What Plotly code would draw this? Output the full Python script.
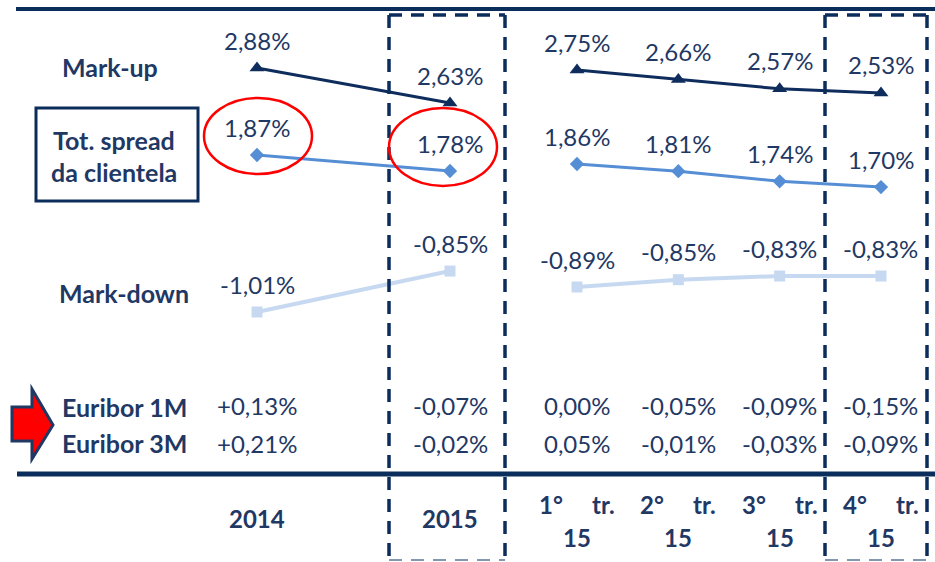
import plotly.graph_objects as go

# ---------------- data ----------------
years = ["2014", "2015"]
quarters = ["1° tr. 15", "2° tr. 15", "3° tr. 15", "4° tr. 15"]

markup_y = [2.88, 2.63]
spread_y = [1.87, 1.78]
markdown_y = [-1.01, -0.85]

markup_q = [2.75, 2.66, 2.57, 2.53]
spread_q = [1.86, 1.81, 1.74, 1.70]
markdown_q = [-0.89, -0.85, -0.83, -0.83]

euribor1m_y = [0.13, -0.07]
euribor3m_y = [0.21, -0.02]
euribor1m_q = [0.00, -0.05, -0.09, -0.15]
euribor3m_q = [0.05, -0.01, -0.03, -0.09]

# ---------------- styles ----------------
W, H = 935, 562
NAVY = "#0B2D5B"
TXT = "#1F3864"
C_UP = "#0E2C5C"
C_SPREAD = "#558ED5"
C_DOWN = "#C6D9F1"
FONT = "Lato"


def X(p):
    return p / W


def Y(p):
    return 1 - p / H


def fmt(v, plus=False):
    s = f"{v:.2f}".replace(".", ",") + "%"
    if plus and v > 0:
        s = "+" + s
    return s


fig = go.Figure()

series = [
    (years, markup_y, "x", "y", C_UP, "triangle-up", 13, 3),
    (years, spread_y, "x", "y2", C_SPREAD, "diamond", 11, 3),
    (years, markdown_y, "x", "y3", C_DOWN, "square", 11, 4),
    (quarters, markup_q, "x2", "y4", C_UP, "triangle-up", 13, 3),
    (quarters, spread_q, "x2", "y5", C_SPREAD, "diamond", 11, 3),
    (quarters, markdown_q, "x2", "y6", C_DOWN, "square", 11, 4),
]

annotations = []
for xs, ys, xa, ya, col, sym, ms, lw in series:
    fig.add_trace(go.Scatter(
        x=xs, y=ys, xaxis=xa, yaxis=ya, mode="lines+markers",
        line=dict(color=col, width=lw),
        marker=dict(symbol=sym, size=ms, color=col),
        hoverinfo="skip", showlegend=False,
    ))
    for i, yv in enumerate(ys):
        annotations.append(dict(
            x=i, y=yv, xref=xa, yref=ya, text=fmt(yv), showarrow=False,
            yshift=28, yanchor="middle", xanchor="center",
            font=dict(family=FONT, size=24, color=TXT),
        ))

# Euribor rows
for vals, xa, ypix, plus in [
    (euribor1m_y, "x", 405, True),
    (euribor3m_y, "x", 443, True),
    (euribor1m_q, "x2", 405, False),
    (euribor3m_q, "x2", 443, False),
]:
    for i, v in enumerate(vals):
        annotations.append(dict(
            x=i, y=Y(ypix), xref=xa, yref="paper", text=fmt(v, plus and i == 0),
            showarrow=False, yanchor="middle", xanchor="center",
            font=dict(family=FONT, size=24, color=TXT),
        ))

# category labels
for i, c in enumerate(years):
    annotations.append(dict(
        x=i, y=Y(518), xref="x", yref="paper", text=c, showarrow=False,
        yanchor="middle", xanchor="center",
        font=dict(family=FONT, size=24, color=TXT, weight="bold"),
    ))
for i, c in enumerate(quarters):
    top, bottom = c.rsplit(" ", 1)
    top = top.replace(" ", "\u00a0" * 5)
    for txt, yp in [(top, 504), (bottom, 537)]:
        annotations.append(dict(
            x=i, y=Y(yp), xref="x2", yref="paper", text=txt, showarrow=False,
            yanchor="middle", xanchor="center",
            font=dict(family=FONT, size=24, color=TXT, weight="bold"),
        ))

# series labels
for txt, xp, yp in [
    ("Mark-up", 110, 67),
    ("Tot. spread", 114, 140),
    ("da clientela", 114, 172),
    ("Mark-down", 124, 293),
    ("Euribor 1M", 124, 407),
    ("Euribor 3M", 124, 443),
]:
    annotations.append(dict(
        x=X(xp), y=Y(yp), xref="paper", yref="paper", text=txt, showarrow=False,
        yanchor="middle", xanchor="center",
        font=dict(family=FONT, size=25, color=TXT, weight="bold"),
    ))

shapes = []


def hline(x0, x1, y, color, width, dash="solid"):
    shapes.append(dict(type="line", xref="paper", yref="paper",
                       x0=X(x0), x1=X(x1), y0=Y(y), y1=Y(y),
                       line=dict(color=color, width=width, dash=dash)))


def vline(x, y0, y1, color, width, dash="solid"):
    shapes.append(dict(type="line", xref="paper", yref="paper",
                       x0=X(x), x1=X(x), y0=Y(y0), y1=Y(y1),
                       line=dict(color=color, width=width, dash=dash)))


hline(16, 935, 9, NAVY, 4)
hline(17, 935, 474, NAVY, 5)

DASH = "13px,9px"
for l, r in [(389, 505), (825, 927)]:
    vline(l, 15, 560, NAVY, 3.5, DASH)
    vline(r, 15, 560, NAVY, 3.5, DASH)
    hline(l, r, 15, NAVY, 3.5, DASH)
    hline(l, r, 560, "#8497B0", 2, DASH)

# text box
shapes.append(dict(type="rect", xref="paper", yref="paper",
                   x0=X(36), x1=X(198), y0=Y(201), y1=Y(108),
                   line=dict(color=NAVY, width=3)))
# red ellipses
for x0, x1, y0, y1 in [(204, 312, 98, 174), (389, 497, 108, 186)]:
    shapes.append(dict(type="circle", xref="paper", yref="paper",
                       x0=X(x0), x1=X(x1), y0=Y(y1), y1=Y(y0),
                       line=dict(color="#FF0000", width=2.5)))
# red arrow
pts = [(12, 407), (32, 407), (32, 389), (53, 425), (32, 459), (32, 441), (12, 441)]
path = "M " + " L ".join(f"{X(a):.5f},{Y(b):.5f}" for a, b in pts) + " Z"
shapes.append(dict(type="path", xref="paper", yref="paper", path=path,
                   fillcolor="#FF0000", line=dict(color=TXT, width=3)))

hidden = dict(visible=False, showgrid=False, zeroline=False, fixedrange=True)

fig.update_layout(
    width=W, height=H, autosize=False,
    margin=dict(l=0, r=0, t=0, b=0, pad=0),
    paper_bgcolor="white", plot_bgcolor="white",
    showlegend=False,
    xaxis=dict(type="category", categoryarray=years, range=[-257 / 193, (W - 257) / 193], **hidden),
    xaxis2=dict(type="category", categoryarray=quarters, overlaying="x",
                range=[-577 / 101.33, (W - 577) / 101.33], **hidden),
    yaxis=dict(range=[-0.6486, 3.3657], **hidden),
    yaxis2=dict(range=[-0.4191, 2.7418], overlaying="y", **hidden),
    yaxis3=dict(range=[-1.98656, 0.20875], overlaying="y", **hidden),
    yaxis4=dict(range=[-1.9581, 3.4199], overlaying="y", anchor="x2", **hidden),
    yaxis5=dict(range=[-0.9039, 2.9989], overlaying="y", anchor="x2", **hidden),
    yaxis6=dict(range=[-2.3927, 0.6783], overlaying="y", anchor="x2", **hidden),
    annotations=annotations,
    shapes=shapes,
)

fig.write_html("out.html", config={"displayModeBar": False},
               post_script="document.body.style.margin='0';document.body.style.padding='0';")
